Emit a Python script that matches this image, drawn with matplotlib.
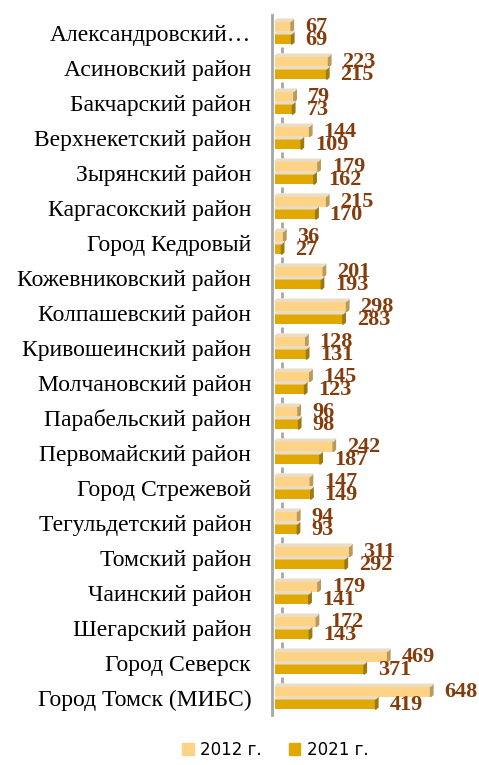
import matplotlib.pyplot as plt
from matplotlib.patches import Polygon

districts = ["Александровский…", "Асиновский район", "Бакчарский район",
             "Верхнекетский район", "Зырянский район", "Каргасокский район",
             "Город Кедровый", "Кожевниковский район", "Колпашевский район",
             "Кривошеинский район", "Молчановский район", "Парабельский район",
             "Первомайский район", "Город Стрежевой", "Тегульдетский район",
             "Томский район", "Чаинский район", "Шегарский район",
             "Город Северск", "Город Томск (МИБС)"]
v2012 = [67, 223, 79, 144, 179, 215, 36, 201, 298, 128, 145, 96, 242, 147, 94, 311, 179, 172, 469, 648]
v2021 = [69, 215, 73, 109, 162, 170, 27, 193, 283, 131, 123, 98, 187, 149, 93, 292, 141, 143, 371, 419]

c12 = "#FFD385"
c21 = "#E0A800"
lab_col = "#843C0C"

plt.rcParams["font.family"] = "Liberation Serif"

fig = plt.figure(figsize=(4.79, 7.65), dpi=100)
ax = fig.add_axes([0.568, 0.065, 0.432, 0.915])

n = len(districts)
y = list(range(n))
h = 0.3
off = 0.18

ax.barh([i - off for i in y], v2012, height=h, color=c12, left=0, zorder=2)
ax.barh([i + off for i in y], v2021, height=h, color=c21, left=0, zorder=2)

# pseudo 3d: right side face and top face
dx, dy = 10, 0.06
for i in y:
    for v, yc, side in [(v2012[i], i - off, "#B89A5A"),
                        (v2021[i], i + off, "#9C7A10")]:
        ax.add_patch(Polygon([(v, yc - h / 2), (v + dx, yc - h / 2 - dy),
                              (v + dx, yc + h / 2 - dy), (v, yc + h / 2)],
                             closed=True, color=side, zorder=3))
        ax.add_patch(Polygon([(0, yc - h / 2), (dx, yc - h / 2 - dy),
                              (v + dx, yc - h / 2 - dy), (v, yc - h / 2)],
                             closed=True, color="#EADDC4", zorder=3))
    ax.text(v2012[i] + 58, i - off + 0.02, str(v2012[i]), va="center", ha="left",
            fontsize=16, fontweight="bold", color=lab_col, clip_on=False)
    ax.text(v2021[i] + 58, i + off + 0.04, str(v2021[i]), va="center", ha="left",
            fontsize=16, fontweight="bold", color=lab_col, clip_on=False)

# small grid stubs between groups
ax.plot([28] * (n - 1), [i + 0.5 for i in range(n - 1)], ls="none", marker="|",
        ms=5, mew=2, color="#A6A6A6", zorder=1)

ax.set_xlim(-12, 850)
ax.set_ylim(n - 0.5, -0.5)
ax.set_yticks(y)
ax.set_yticklabels(districts)
ax.tick_params(axis="y", length=0, pad=15, labelsize=17)
ax.set_xticks([])
for s in ["top", "right", "bottom"]:
    ax.spines[s].set_visible(False)
ax.spines["left"].set_color("#A6A6A6")
ax.spines["left"].set_linewidth(2)
ax.spines["left"].set_position(("data", -12))

h1 = plt.Rectangle((0, 0), 1, 1, color=c12)
h2 = plt.Rectangle((0, 0), 1, 1, color=c21)
fig.legend([h1, h2], ["2012 г.", "2021 г."], loc="center", bbox_to_anchor=(0.575, 0.02),
           ncol=2, frameon=False, handlelength=0.7, handleheight=0.7,
           handletextpad=0.4, columnspacing=1.6, prop={"family": "DejaVu Sans", "size": 12})

fig.savefig("out.png", dpi=100)
